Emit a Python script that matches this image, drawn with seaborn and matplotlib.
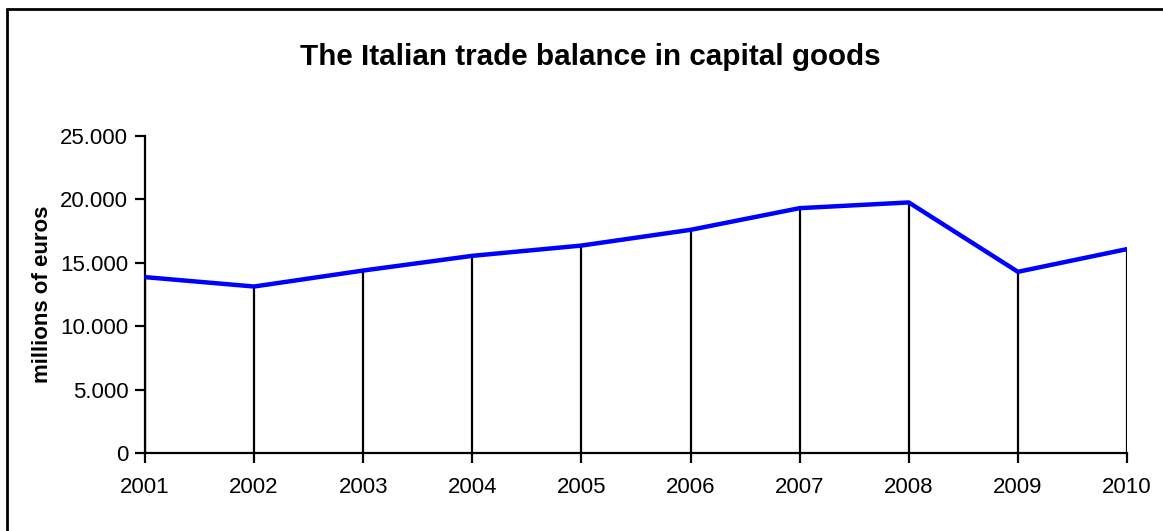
import matplotlib
matplotlib.use("Agg")
import matplotlib.pyplot as plt
from matplotlib.lines import Line2D
from matplotlib.ticker import FuncFormatter
import pandas as pd
import seaborn as sns

years = [2001, 2002, 2003, 2004, 2005, 2006, 2007, 2008, 2009, 2010]
balance = [13870, 13130, 14390, 15550, 16360, 17600, 19310, 19760, 14290, 16080]

df = pd.DataFrame({"year": years, "balance": balance})

sns.set_style("ticks")
plt.rcParams["font.family"] = ["Liberation Sans", "DejaVu Sans"]
plt.rcParams["text.color"] = "black"
plt.rcParams["axes.labelcolor"] = "black"
plt.rcParams["xtick.color"] = "black"
plt.rcParams["ytick.color"] = "black"

fig = plt.figure(figsize=(11.63, 5.31), dpi=100)
ax = fig.add_axes([145 / 1163, 1 - 453 / 531, (1127 - 145) / 1163, (453 - 136) / 531])

# drop lines from each point down to zero
ax.vlines(df["year"], 0, df["balance"], color="black", linewidth=1.6, zorder=2)
sns.lineplot(data=df, x="year", y="balance", color="#0000ff", linewidth=3.2, ax=ax, zorder=3)

ax.set_xlim(2001, 2010)
ax.set_ylim(0, 25000)
ax.set_xticks(years)
ax.set_yticks(range(0, 25001, 5000))
ax.yaxis.set_major_formatter(FuncFormatter(lambda v, p: f"{v:,.0f}".replace(",", ".")))
ax.tick_params(axis="both", labelsize=16, width=1.6, length=7, color="black", pad=5)
ax.tick_params(axis="x", pad=10)

sns.despine(ax=ax)
for s in ["left", "bottom"]:
    ax.spines[s].set_linewidth(1.6)
    ax.spines[s].set_color("black")

ax.set_xlabel("")
ax.set_ylabel("millions of euros", fontsize=16, fontweight="bold", labelpad=5)

fig.text(590 / 1163, 1 - 57 / 531, "The Italian trade balance in capital goods",
         ha="center", va="center", fontsize=21.3, fontweight="bold")

# outer frame (top and left edges visible)
fig.add_artist(Line2D([7 / 1163, 1], [1 - 9 / 531, 1 - 9 / 531], color="black", linewidth=2))
fig.add_artist(Line2D([7 / 1163, 7 / 1163], [0, 1 - 9 / 531], color="black", linewidth=2))

fig.savefig("out.png", dpi=100)
